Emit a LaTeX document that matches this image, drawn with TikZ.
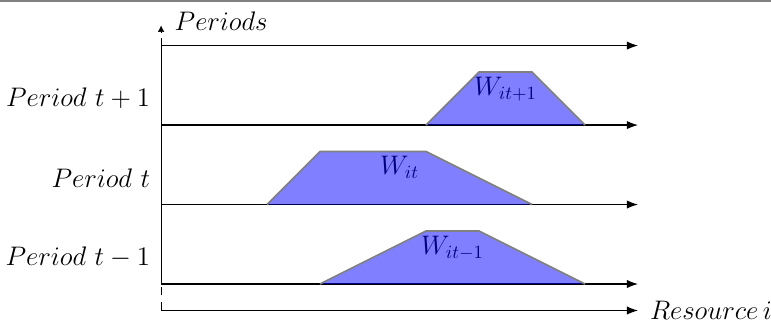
\documentclass[tikz,border=0pt]{standalone}
\usetikzlibrary{arrows.meta}

\tikzset{
  axis/.style={line width=0.6pt, -{Latex[length=6pt,width=4.5pt]}},
  load/.style={fill=blue, fill opacity=0.5, draw=gray, line width=0.9pt},
  lbl/.style={font=\fontsize{14}{17}\selectfont, inner sep=0pt},
}

\begin{document}
\begin{tikzpicture}

\useasboundingbox (-3.04,-0.755) rectangle (11.51,5.36);
\draw[gray, line width=1pt] (-3.04,5.34) -- (11.51,5.34);

% rows for the periods
\foreach \n/\y in {a/0, b/1.5, c/3, d/4.5}{
	\coordinate (\n0) at (0,\y);
	\coordinate (\n1) at (9,\y);
	\draw[axis] (\n0) -- (\n1);
}
\foreach \n/\y/\lab in {a/0/{t-1}, b/1.5/t, c/3/{t+1}}{
	\node[lbl, anchor=east] (p\n) at (-0.2,\y+0.5) {$Period~\lab$};
}

% loads, text first so the fill tints it
\foreach[count=\i] \b/\l/\tl/\tr/\r/\sub in {0/3/5/6/8/{it-1}, 1.5/2/3/5/7/{it}, 3/5/6/7/8/{it+1}}{
	\node[lbl, anchor=base] (w\i) at ({(\l+\r)/2},\b+0.56) {$W_{\sub}$};
	\filldraw[load] (\l,\b) -- (\tl,\b+1) -- (\tr,\b+1) -- (\r,\b);
}

% axes
\coordinate (o) at (0,-0.5);
\coordinate (top) at (0,4.64);
\coordinate (res) at (9,-0.5);
\coordinate (tipb) at (0,4.76);
\coordinate (tipt) at (0,4.88);
\draw[line width=0.6pt, dash pattern=on 4.5pt off 3.7pt] (o) -- (a0);
\draw[line width=0.6pt] (a0) -- (top);
\draw[line width=0.3pt, -{Latex[length=3.5pt,width=3.5pt]}] (tipb) -- (tipt);
\draw[axis] (o) -- (res);
\node[lbl, anchor=base west] (periods) at (0.25,4.79) {$Periods$};
\node[lbl, anchor=west] (resource) at (9.22,-0.5) {$Resource\,i$};

\end{tikzpicture}
\end{document}
